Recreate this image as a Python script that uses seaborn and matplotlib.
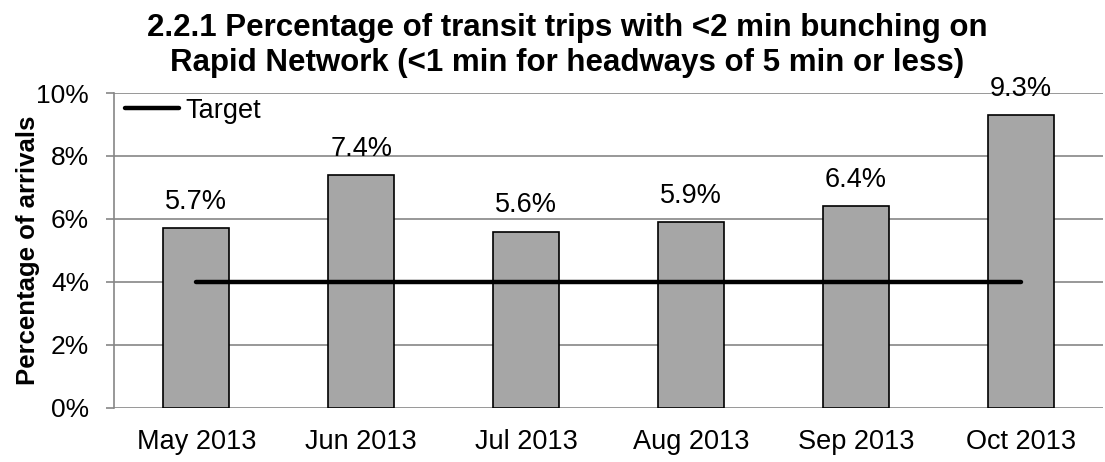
import matplotlib
matplotlib.use("Agg")
import matplotlib.pyplot as plt
import seaborn as sns
import pandas as pd

months = ["May 2013", "Jun 2013", "Jul 2013", "Aug 2013", "Sep 2013", "Oct 2013"]
values = [5.7, 7.4, 5.6, 5.9, 6.4, 9.3]
target = [4.0, 4.0, 4.0, 4.0, 4.0, 4.0]
yticks = [0, 2, 4, 6, 8, 10]

sns.set_theme(style="white")
plt.rcParams['font.family'] = ['Liberation Sans', 'DejaVu Sans']
plt.rcParams['text.color'] = 'black'
plt.rcParams['xtick.color'] = 'black'
plt.rcParams['ytick.color'] = 'black'
plt.rcParams['axes.labelcolor'] = 'black'

df = pd.DataFrame({"month": months, "value": values, "target": target})

fig = plt.figure(figsize=(11.05, 4.62), dpi=100)
ax = fig.add_axes([0.1032, 0.1169, 0.8950, 0.6818])

FS = 19.5

sns.barplot(data=df, x="month", y="value", color="#a6a6a6", width=0.4,
            edgecolor="black", linewidth=1.2, saturation=1, ax=ax, zorder=3)
sns.lineplot(data=df, x="month", y="target", color="black", linewidth=3.2,
             ax=ax, label="Target", zorder=4)

for i, v in enumerate(values):
    ax.text(i, v + 0.42, f"{v:.1f}%", ha="center", va="bottom", fontsize=FS, zorder=5)

ax.set_ylim(0, 10)
ax.set_xlim(-0.5, 5.5)
ax.set_yticks(yticks)
ax.set_yticklabels([f"{t}%" for t in yticks], fontsize=19)
ax.tick_params(axis="x", labelsize=FS, length=0, pad=15)
ax.tick_params(axis="y", length=6, width=1.2, color="#868686", direction="out", left=True, pad=12)
ax.yaxis.grid(True, color="#868686", linewidth=1.2, zorder=0)
ax.set_axisbelow(True)
for s in ["top", "right", "bottom"]:
    ax.spines[s].set_visible(False)
ax.spines["left"].set_color("#868686")
ax.spines["left"].set_linewidth(1.2)
ax.set_xlabel("")
ax.set_ylabel("Percentage of arrivals", fontsize=18.5, fontweight="bold", labelpad=-3)

leg = ax.legend(loc="upper left", frameon=False, fontsize=FS, handlelength=2.0,
                handletextpad=0.25, borderaxespad=0.0, bbox_to_anchor=(0.0, 1.02))

fig.suptitle("2.2.1 Percentage of transit trips with <2 min bunching on\nRapid Network (<1 min for headways of 5 min or less)",
             fontsize=22.5, fontweight="bold", x=0.513, y=0.972, va="top", linespacing=1.22)

fig.savefig("out.png", dpi=100)
